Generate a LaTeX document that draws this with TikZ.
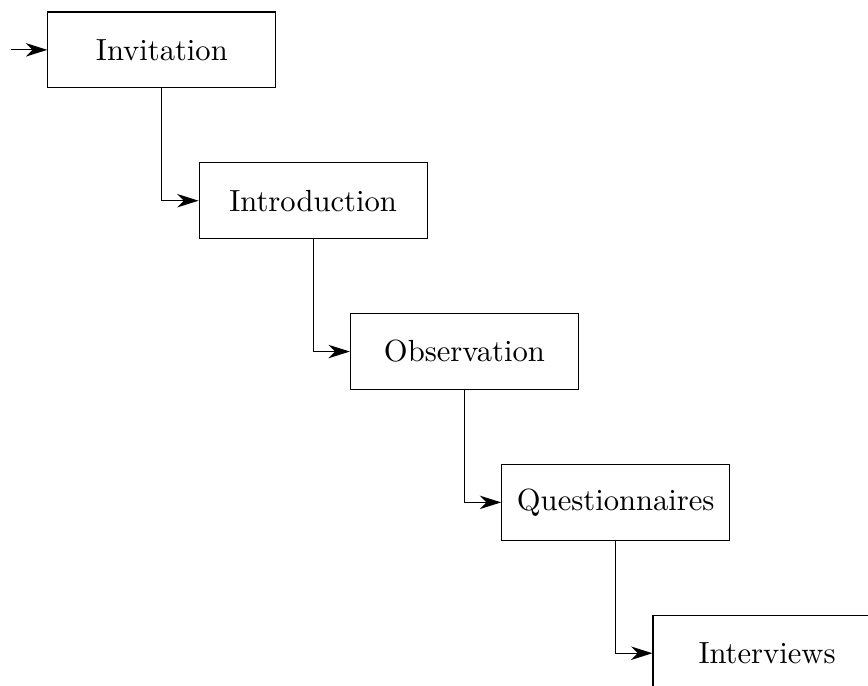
\documentclass[tikz,border=0pt]{standalone}
\usepackage{tikz}
\usetikzlibrary{arrows.meta}

\begin{document}
\begin{tikzpicture}[stage/.style={draw,rectangle,minimum width=74.5pt,minimum height=24.8pt},flow/.style={-{Stealth[length=7pt,width=4.4pt,inset=2.2pt]}}]
\useasboundingbox (0,0) rectangle (283.7pt,-224.2pt);
\foreach \i/\nm/\txt in %
{0/inv/Invitation,1/intro/Introduction,2/obs/Observation,3/quest/Questionnaires,4/interv/Interviews} {
   \node[stage] (\nm) at (52.9pt+\i*49.45pt,-16.3pt-\i*49.3pt) {\txt};
}
\coordinate (start) at (3.6pt,-16.3pt);
\draw[flow] (start) -- (inv.west);
\draw[flow] (inv.south) |- (intro.west);
\draw[flow] (intro.south) |- (obs.west);
\draw[flow] (obs.south) |- (quest.west);
\draw[flow] (quest.south) |- (interv.west);
\end{tikzpicture}
\end{document}
